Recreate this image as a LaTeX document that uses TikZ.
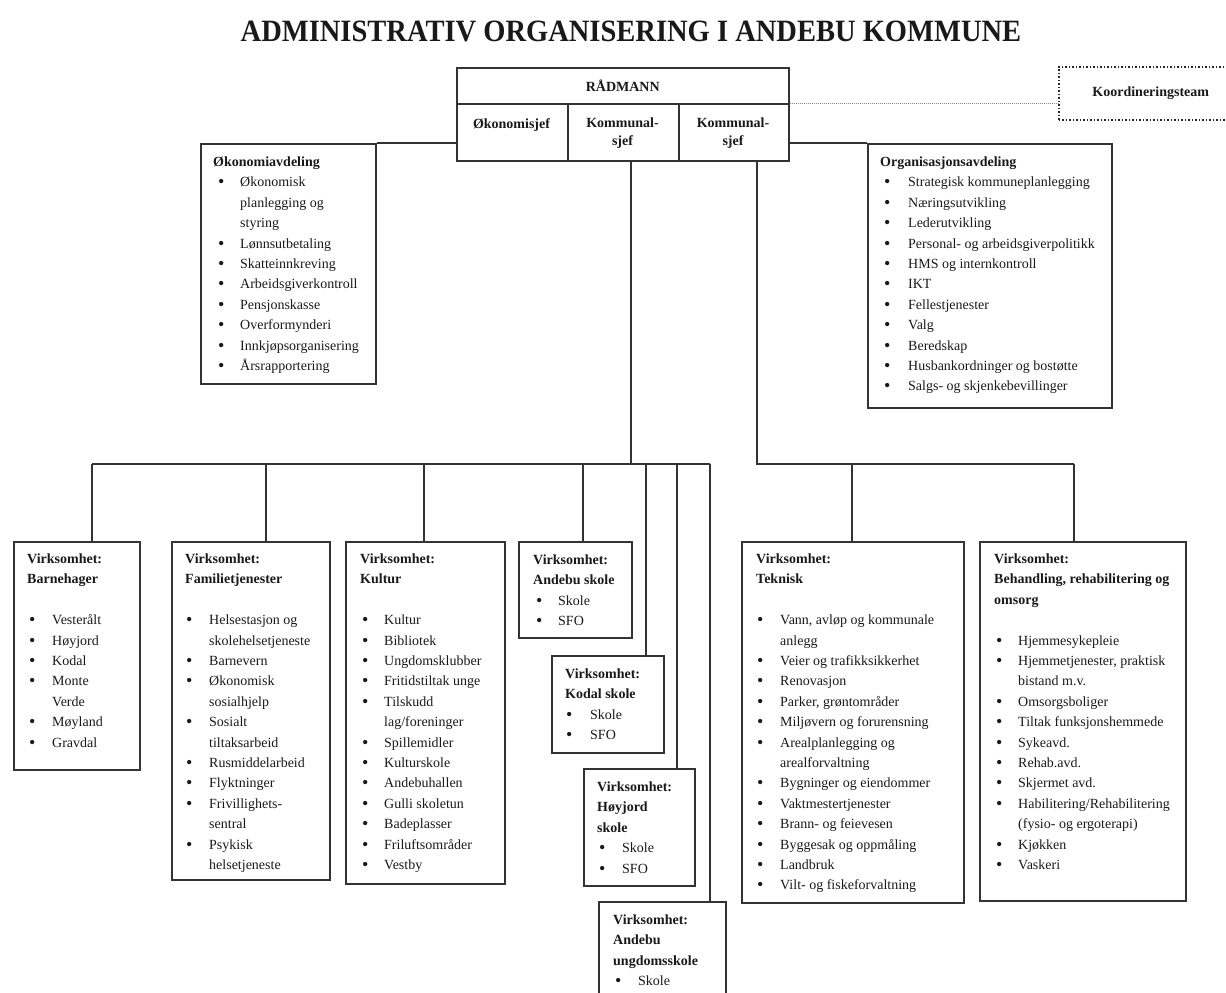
\documentclass[tikz,border=0pt]{standalone}
\usepackage{fontspec}
\setmainfont{Liberation Serif}
\newfontfamily\titlefont[FakeStretch=0.92]{Liberation Serif}
\usepackage{array}
\newlength{\bulofs}
\newcommand{\hdr}[1]{\multicolumn{2}{@{}l@{}}{\bfseries #1}\\}
\newcommand{\emptyrow}{\multicolumn{2}{@{}l@{}}{\strut}\\}
\newcommand{\bigbul}{\raisebox{-1pt}{\fontsize{18}{18}\selectfont\textbullet}}
\newcommand{\bitm}[1]{\hspace*{\bulofs}\bigbul & #1\\}
\newcommand{\cnt}[1]{ & #1\\}
\newcommand{\blist}[3]{\setlength{\bulofs}{#1}\begin{tabular}{@{}p{#2}@{}l@{}}#3\end{tabular}}
\tikzset{
  box/.style={draw=black!80, line width=1.5pt, rectangle, inner sep=0pt, anchor=north west},
  conn/.style={draw=black!80, line width=1.5pt},
  dotline/.style={draw=black!45, line width=1pt, densely dotted},
  txt/.style={inner sep=0pt, anchor=north west, text=black!90, font=\fontsize{14}{20.4}\selectfont},
  lbl/.style={inner sep=0pt, text=black!90, font=\fontsize{14}{18}\selectfont\bfseries, align=center},
}
\begin{document}
\begin{tikzpicture}[x=1pt, y=-1pt]
\useasboundingbox (0,0) rectangle (1226,993);
% title
\node[inner sep=0pt, text=black!90, font={\titlefont\bfseries\fontsize{31}{31}\selectfont}] (title) at (631,31) {ADMINISTRATIV ORGANISERING I ANDEBU KOMMUNE};
% top box
\node[box, minimum width=332, minimum height=36] (rad) at (456,67) {};
\node[box, minimum width=111, minimum height=57] (oko) at (456,103) {};
\node[box, minimum width=111, minimum height=57] (kom1) at (567,103) {};
\node[box, minimum width=110, minimum height=57] (kom2) at (678,103) {};
\node[lbl] (radl) at (rad.center) {RÅDMANN};
\node[lbl] (okol) at (511.5,125) {Økonomisjef};
\node[lbl] (kom1l) at (622.5,133) {Kommunal-\\sjef};
\node[lbl] (kom2l) at (733,133) {Kommunal-\\sjef};
% koordineringsteam
\node[box, draw=black!85, line width=1.5pt, dotted, minimum width=184, minimum height=53, font=\fontsize{14}{18}\selectfont\bfseries, text=black!90] (koord) at (1058,66) {Koordineringsteam};
\draw[dotline] (kom2.north east) -- (kom2.north east -| koord.west);
% okonomiavdeling
\node[box, minimum width=175, minimum height=240] (okoavd) at (200,143) {};
\node[txt] (okoavdt) at (213,152) {\blist{5pt}{27pt}{\hdr{Økonomiavdeling}
\bitm{Økonomisk}\cnt{planlegging og}\cnt{styring}
\bitm{Lønnsutbetaling}\bitm{Skatteinnkreving}\bitm{Arbeidsgiverkontroll}
\bitm{Pensjonskasse}\bitm{Overformynderi}\bitm{Innkjøpsorganisering}
\bitm{Årsrapportering}}};
\draw[conn] (okoavd.north east) -- (okoavd.north east -| oko.west);
% organisasjonsavdeling
\node[box, minimum width=244, minimum height=264] (orgavd) at (867,143) {};
\node[txt] (orgavdt) at (880,152) {\blist{4pt}{28pt}{\hdr{Organisasjonsavdeling}
\bitm{Strategisk kommuneplanlegging}\bitm{Næringsutvikling}\bitm{Lederutvikling}
\bitm{Personal- og arbeidsgiverpolitikk}\bitm{HMS og internkontroll}\bitm{IKT}
\bitm{Fellestjenester}\bitm{Valg}\bitm{Beredskap}
\bitm{Husbankordninger og bostøtte}\bitm{Salgs- og skjenkebevillinger}}};
\draw[conn] (kom2.east |- orgavd.north) -- (orgavd.north west);
% bottom boxes
\node[box, minimum width=126, minimum height=228] (bh) at (13,541) {};
\node[txt] (bht) at (27,549) {\blist{2pt}{25pt}{\hdr{Virksomhet:}\hdr{Barnehager}\emptyrow
\bitm{Vesterålt}\bitm{Høyjord}\bitm{Kodal}\bitm{Monte}\cnt{Verde}\bitm{Møyland}\bitm{Gravdal}}};
\node[box, minimum width=158, minimum height=338] (fam) at (171,541) {};
\node[txt] (famt) at (185,549) {\blist{1pt}{24pt}{\hdr{Virksomhet:}\hdr{Familietjenester}\emptyrow
\bitm{Helsestasjon og}\cnt{skolehelsetjeneste}\bitm{Barnevern}\bitm{Økonomisk}\cnt{sosialhjelp}
\bitm{Sosialt}\cnt{tiltaksarbeid}\bitm{Rusmiddelarbeid}\bitm{Flyktninger}
\bitm{Frivillighets-}\cnt{sentral}\bitm{Psykisk}\cnt{helsetjeneste}}};
\node[box, minimum width=159, minimum height=342] (kul) at (345,541) {};
\node[txt] (kult) at (360,549) {\blist{2pt}{24pt}{\hdr{Virksomhet:}\hdr{Kultur}\emptyrow
\bitm{Kultur}\bitm{Bibliotek}\bitm{Ungdomsklubber}\bitm{Fritidstiltak unge}
\bitm{Tilskudd}\cnt{lag/foreninger}\bitm{Spillemidler}\bitm{Kulturskole}
\bitm{Andebuhallen}\bitm{Gulli skoletun}\bitm{Badeplasser}\bitm{Friluftsområder}\bitm{Vestby}}};
\node[box, minimum width=113, minimum height=96] (ask) at (518,541) {};
\node[txt] (askt) at (533,550) {\blist{3pt}{25pt}{\hdr{Virksomhet:}\hdr{Andebu skole}\bitm{Skole}\bitm{SFO}}};
\node[box, minimum width=112, minimum height=97] (kod) at (551,655) {};
\node[txt] (kodt) at (565,664) {\blist{1pt}{25pt}{\hdr{Virksomhet:}\hdr{Kodal skole}\bitm{Skole}\bitm{SFO}}};
\node[box, minimum width=111, minimum height=117] (hoy) at (583,768) {};
\node[txt] (hoyt) at (597,777) {\blist{2pt}{25pt}{\hdr{Virksomhet:}\hdr{Høyjord}\hdr{skole}\bitm{Skole}\bitm{SFO}}};
\node[box, minimum width=127, minimum height=110] (ung) at (598,901) {};
\node[txt] (ungt) at (613,910) {\blist{2pt}{25pt}{\hdr{Virksomhet:}\hdr{Andebu}\hdr{ungdomsskole}\bitm{Skole}}};
\node[box, minimum width=222, minimum height=361] (tek) at (741,541) {};
\node[txt] (tekt) at (756,549) {\blist{1pt}{24pt}{\hdr{Virksomhet:}\hdr{Teknisk}\emptyrow
\bitm{Vann, avløp og kommunale}\cnt{anlegg}\bitm{Veier og trafikksikkerhet}\bitm{Renovasjon}
\bitm{Parker, grøntområder}\bitm{Miljøvern og forurensning}\bitm{Arealplanlegging og}\cnt{arealforvaltning}
\bitm{Bygninger og eiendommer}\bitm{Vaktmestertjenester}\bitm{Brann- og feievesen}
\bitm{Byggesak og oppmåling}\bitm{Landbruk}\bitm{Vilt- og fiskeforvaltning}}};
\node[box, minimum width=206, minimum height=359] (beh) at (979,541) {};
\node[txt] (beht) at (994,549) {\blist{2pt}{24pt}{\hdr{Virksomhet:}\hdr{Behandling, rehabilitering og}\hdr{omsorg}\emptyrow
\bitm{Hjemmesykepleie}\bitm{Hjemmetjenester, praktisk}\cnt{bistand m.v.}\bitm{Omsorgsboliger}
\bitm{Tiltak funksjonshemmede}\bitm{Sykeavd.}\bitm{Rehab.avd.}\bitm{Skjermet avd.}
\bitm{Habilitering/Rehabilitering}\cnt{(fysio- og ergoterapi)}\bitm{Kjøkken}\bitm{Vaskeri}}};
% tree 1
\coordinate (b1) at (631,464);
\coordinate (t1) at (92,464);
\coordinate (t2) at (266,464);
\coordinate (t3) at (424,464);
\coordinate (t4) at (583,464);
\coordinate (t5) at (646,464);
\coordinate (t6) at (677,464);
\coordinate (t7) at (710,464);
\draw[conn] (kom1.south -| b1) -- (b1);
\draw[conn] (t1) -- (t7);
\draw[conn] (t1) -- (t1 |- bh.north);
\draw[conn] (t2) -- (t2 |- fam.north);
\draw[conn] (t3) -- (t3 |- kul.north);
\draw[conn] (t4) -- (t4 |- ask.north);
\draw[conn] (t5) -- (t5 |- kod.north);
\draw[conn] (t6) -- (t6 |- hoy.north);
\draw[conn] (t7) -- (t7 |- ung.north);
% tree 2
\coordinate (u0) at (757,464);
\coordinate (u1) at (852,464);
\coordinate (u2) at (1074,464);
\draw[conn] (kom2.south -| u0) -- (u0) -- (u2);
\draw[conn] (u1) -- (u1 |- tek.north);
\draw[conn] (u2) -- (u2 |- beh.north);
\end{tikzpicture}
\end{document}
